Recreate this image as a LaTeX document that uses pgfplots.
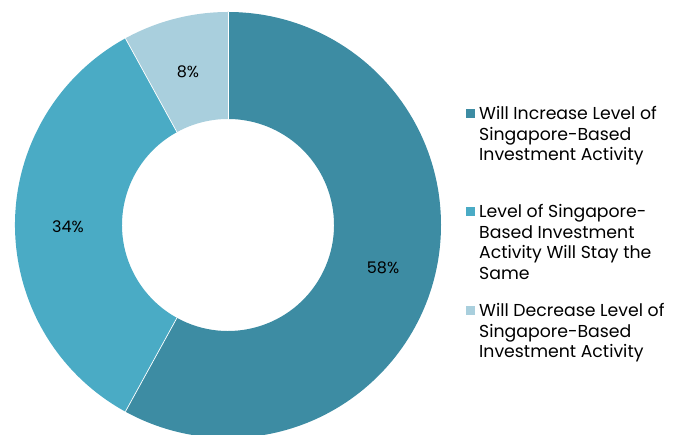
\documentclass[border=0pt]{standalone}
\usepackage{pgfplots}
\pgfplotsset{compat=1.18}
\usepackage{pgfplotstable}
\usepackage{fontspec}
\setmainfont{Poppins}
\definecolor{cA}{HTML}{3D8CA3}
\definecolor{cB}{HTML}{4AABC5}
\definecolor{cC}{HTML}{A9CFDD}
\pgfplotstableread{
label value
inc 58
same 34
dec 8
}\piedata
\pgfplotstablegetelem{0}{value}\of\piedata \pgfmathsetmacro{\va}{\pgfplotsretval}
\pgfplotstablegetelem{1}{value}\of\piedata \pgfmathsetmacro{\vb}{\pgfplotsretval}
\pgfplotstablegetelem{2}{value}\of\piedata \pgfmathsetmacro{\vc}{\pgfplotsretval}
\pgfmathsetmacro{\aA}{90}
\pgfmathsetmacro{\aB}{90-3.6*\va}
\pgfmathsetmacro{\aC}{\aB-3.6*\vb}
\pgfmathsetmacro{\aD}{\aC-3.6*\vc}
\begin{document}
\begin{tikzpicture}[x=1pt,y=1pt]
\begin{axis}[at={(0,0)},anchor=south west,width=685pt,height=435pt,scale only axis,
  xmin=0,xmax=685,ymin=0,ymax=435,hide axis,clip=true]
\coordinate (O) at (axis cs:228,210);
\fill[cA] ([shift={(\aA:213pt)}]O) arc[start angle=\aA,end angle=\aB,radius=213pt] -- ([shift={(\aB:106pt)}]O) arc[start angle=\aB,end angle=\aA,radius=106pt] -- cycle;
\fill[cB] ([shift={(\aB:213pt)}]O) arc[start angle=\aB,end angle=\aC,radius=213pt] -- ([shift={(\aC:106pt)}]O) arc[start angle=\aC,end angle=\aB,radius=106pt] -- cycle;
\fill[cC] ([shift={(\aC:213pt)}]O) arc[start angle=\aC,end angle=\aD,radius=213pt] -- ([shift={(\aD:106pt)}]O) arc[start angle=\aD,end angle=\aC,radius=106pt] -- cycle;
\draw[white,line width=0.7pt] ([shift={(\aA:106pt)}]O) -- ([shift={(\aA:213pt)}]O);
\draw[white,line width=0.7pt] ([shift={(\aB:106pt)}]O) -- ([shift={(\aB:213pt)}]O);
\draw[white,line width=0.7pt] ([shift={(\aC:106pt)}]O) -- ([shift={(\aC:213pt)}]O);
\node[font=\fontsize{16}{18}\selectfont] at (axis cs:383,167) {58\%};
\node[font=\fontsize{16}{18}\selectfont] at (axis cs:68,208) {34\%};
\node[font=\fontsize{16}{18}\selectfont] at (axis cs:188,363) {8\%};
\end{axis}
\begin{scope}[every node/.style={anchor=base west,align=left,inner sep=0pt,font=\fontsize{17.3}{20.5}\selectfont}]
\fill[cA] (466,317) rectangle (475,326);
\node at (479,274) {Will Increase Level of\\Singapore-Based\\Investment Activity};
\fill[cB] (466,219) rectangle (475,228);
\node at (479,155.5) {Level of Singapore-\\Based Investment\\Activity Will Stay the\\Same};
\fill[cC] (466,120) rectangle (475,129);
\node at (479,77) {Will Decrease Level of\\Singapore-Based\\Investment Activity};
\end{scope}
\useasboundingbox (0,0) rectangle (685,435);
\end{tikzpicture}
\end{document}
